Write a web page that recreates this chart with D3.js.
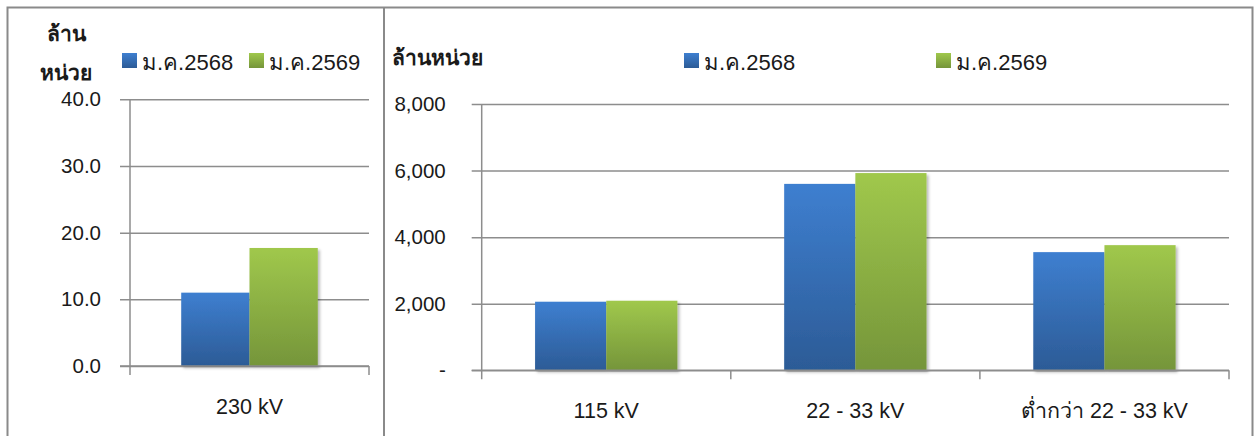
<!DOCTYPE html>
<html>
<head>
<meta charset="utf-8">
<script src="https://cdn.jsdelivr.net/npm/d3@7"></script>
<style>
  html, body { margin: 0; padding: 0; background: #fff; }
  svg text { font-family: "Liberation Sans", "Noto Sans", "DejaVu Sans", sans-serif; fill: #1a1a1a; }
</style>
</head>
<body>
<svg id="chart" width="1256" height="436"></svg>
<script>
// ---- data ----
const seriesNames = ["ม.ค.2568", "ม.ค.2569"];
const leftCategories = ["230 kV"];
const left2568 = [11.0];
const left2569 = [17.7];
const leftTicks = [0, 10, 20, 30, 40];
const leftTickLabels = ["0.0", "10.0", "20.0", "30.0", "40.0"];

const rightCategories = ["115 kV", "22 - 33 kV", "ต่ำกว่า 22 - 33 kV"];
const right2568 = [2060, 5600, 3550];
const right2569 = [2090, 5925, 3760];
const rightTicks = [0, 2000, 4000, 6000, 8000];
const rightTickLabels = ["-", "2,000", "4,000", "6,000", "8,000"];

const unitTitle = "ล้านหน่วย";
const unitTitleLine1 = "ล้าน";
const unitTitleLine2 = "หน่วย";

// ---- drawing ----
const svg = d3.select("#chart");
const defs = svg.append("defs");
const grads = [
  { id: "gBlue", top: "#3e7fd0", bot: "#2c5b96" },
  { id: "gGreen", top: "#a0c84c", bot: "#75953a" }
];
grads.forEach(g => {
  const lg = defs.append("linearGradient").attr("id", g.id)
    .attr("x1", 0).attr("y1", 0).attr("x2", 0).attr("y2", 1);
  lg.append("stop").attr("offset", "0%").attr("stop-color", g.top);
  lg.append("stop").attr("offset", "100%").attr("stop-color", g.bot);
});
const f = defs.append("filter").attr("id", "shadow")
  .attr("x", "-10%").attr("y", "-10%").attr("width", "130%").attr("height", "130%");
f.append("feDropShadow").attr("dx", 2).attr("dy", 2).attr("stdDeviation", 1.8)
  .attr("flood-color", "#000").attr("flood-opacity", 0.28);

const fills = ["url(#gBlue)", "url(#gGreen)"];
const gridColor = "#8d8d8d";

// frame
const frame = svg.append("g");
frame.append("path")
  .attr("d", "M7.5,436 V7.5 H1252.5 V436")
  .attr("fill", "none").attr("stroke", "#8a8a8a").attr("stroke-width", 2);
frame.append("line").attr("x1", 384).attr("x2", 384).attr("y1", 7.5).attr("y2", 436)
  .attr("stroke", "#8a8a8a").attr("stroke-width", 2);

function panel(opts) {
  const { cats, s1, s2, ticks, tickLabels, yMax, left, right, top, bottom, labelGap, catLabelY } = opts;
  const y = d3.scaleLinear().domain([0, yMax]).range([bottom, top]);
  const x0 = d3.scaleBand().domain(cats).range([left, right]).padding(0);
  const B = x0.bandwidth();
  const x1 = d3.scaleBand().domain(seriesNames).range([B * 0.75 / 3.5, B * 2.75 / 3.5]).padding(0);
  const g = svg.append("g");

  // gridlines + tick labels
  const tickLen = 10;
  const grid = g.append("g").attr("transform", `translate(${right},0)`)
    .call(d3.axisLeft(y).tickValues(ticks).tickSize(right - left + tickLen)
      .tickPadding(labelGap).tickFormat((d, i) => tickLabels[i]));
  grid.select(".domain").remove();
  grid.selectAll(".tick line").attr("stroke", gridColor).attr("stroke-width", 1.5);
  grid.selectAll(".tick text").attr("font-size", 20.5).attr("fill", "#1a1a1a");

  // bars
  const data = cats.map((c, i) => ({ c, vals: [s1[i], s2[i]] }));
  const groups = g.append("g").selectAll("g").data(data).join("g")
    .attr("transform", d => `translate(${x0(d.c)},0)`);
  groups.selectAll("rect").data(d => d.vals.map((v, k) => ({ v, k })))
    .join("rect")
    .attr("x", d => x1(seriesNames[d.k]))
    .attr("width", x1.bandwidth())
    .attr("y", d => y(d.v))
    .attr("height", d => y(0) - y(d.v))
    .attr("fill", d => fills[d.k])
    .attr("filter", "url(#shadow)");

  // y axis line
  g.append("line").attr("x1", left).attr("x2", left).attr("y1", y(yMax)).attr("y2", y(0) + 9)
    .attr("stroke", gridColor).attr("stroke-width", 1.5);
  // x axis line
  g.append("line").attr("x1", left - tickLen).attr("x2", right).attr("y1", y(0)).attr("y2", y(0))
    .attr("stroke", gridColor).attr("stroke-width", 1.5);
  // category boundary ticks
  const bounds = cats.map(c => x0(c) + B);
  g.selectAll(".bt").data(bounds).join("line")
    .attr("x1", d => d).attr("x2", d => d).attr("y1", y(0)).attr("y2", y(0) + 9)
    .attr("stroke", gridColor).attr("stroke-width", 1.5);

  // category labels
  const xa = g.append("g").attr("transform", `translate(0,${catLabelY})`)
    .call(d3.axisBottom(x0).tickSize(0).tickPadding(0));
  xa.select(".domain").remove();
  xa.selectAll(".tick text").attr("font-size", 21.5).attr("fill", "#1a1a1a").attr("dy", 0)
    .attr("dominant-baseline", "auto");
  return { x0, x1, y };
}

panel({ cats: leftCategories, s1: left2568, s2: left2569, ticks: leftTicks, tickLabels: leftTickLabels,
  yMax: 40, left: 130, right: 369, top: 99.3, bottom: 366, labelGap: 19, catLabelY: 414 });
panel({ cats: rightCategories, s1: right2568, s2: right2569, ticks: rightTicks, tickLabels: rightTickLabels,
  yMax: 8000, left: 481.7, right: 1229, top: 104, bottom: 370.3, labelGap: 26, catLabelY: 418 });

// titles
svg.append("text").attr("x", 66).attr("y", 41).attr("text-anchor", "middle")
  .attr("font-size", 21).attr("font-weight", "bold").text(unitTitleLine1);
svg.append("text").attr("x", 66).attr("y", 80).attr("text-anchor", "middle")
  .attr("font-size", 21).attr("font-weight", "bold").text(unitTitleLine2);
svg.append("text").attr("x", 392).attr("y", 65)
  .attr("font-size", 21).attr("font-weight", "bold").text(unitTitle);

// legends
function legend(items) {
  const lg = svg.append("g");
  lg.selectAll("rect").data(items).join("rect")
    .attr("x", d => d.x).attr("y", d => d.y - 17).attr("width", 15).attr("height", 15)
    .attr("fill", (d, i) => fills[i]);
  lg.selectAll("text").data(items).join("text")
    .attr("x", d => d.x + 20).attr("y", d => d.y).attr("font-size", 22)
    .text((d, i) => seriesNames[i]);
}
legend([{ x: 122, y: 70 }, { x: 249, y: 70 }]);
legend([{ x: 684, y: 70 }, { x: 936, y: 70 }]);
</script>
</body>
</html>
